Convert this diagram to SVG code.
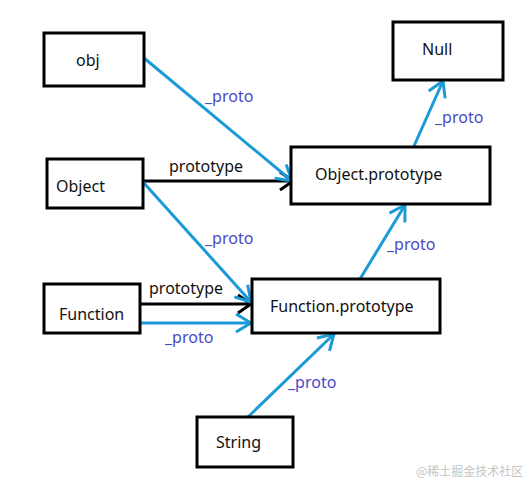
<svg xmlns="http://www.w3.org/2000/svg" width="531" height="493" viewBox="0 0 531 493">
<style>
.box{fill:#fff;stroke:#000;stroke-width:3}
.t{font-family:"Noto Sans","Liberation Sans",sans-serif;font-size:16px;fill:#111}
.lb{font-family:"Noto Sans","Liberation Sans",sans-serif;font-size:16px;fill:#4a4ac4}
.lk{font-family:"Noto Sans","Liberation Sans",sans-serif;font-size:16px;fill:#111}
.blue{stroke:#1a9ad6;stroke-width:3;fill:none;marker-end:url(#ab)}
.black{stroke:#000;stroke-width:3;fill:none;marker-end:url(#ak)}
</style>
<defs>
<marker id="ab" markerUnits="userSpaceOnUse" viewBox="-20 -12 24 24" markerWidth="24" markerHeight="24" refX="0" refY="0" orient="auto">
<path d="M-15,-9 L0,0 L-15,9" fill="none" stroke="#1a9ad6" stroke-width="3"/>
</marker>
<marker id="ak" markerUnits="userSpaceOnUse" viewBox="-20 -12 24 24" markerWidth="24" markerHeight="24" refX="0" refY="0" orient="auto">
<path d="M-13,-9 L0,0 L-13,9" fill="none" stroke="#000" stroke-width="3"/>
</marker>
</defs>
<g id="connectors">
<line class="black" x1="143" y1="181" x2="293" y2="181"/>
<line class="blue" x1="144" y1="58" x2="292" y2="181"/>
<line class="black" x1="140" y1="304" x2="251" y2="304"/>
<line class="blue" x1="143" y1="182" x2="251" y2="302"/>
<line class="blue" x1="140" y1="323" x2="251" y2="323"/>
<line class="blue" x1="248" y1="417" x2="334" y2="334"/>
<line class="blue" x1="360" y1="279" x2="405" y2="205"/>
<line class="blue" x1="414" y1="146" x2="443" y2="81"/>
<text class="lb" x="205" y="102">_proto</text>
<text class="lk" x="169" y="172">prototype</text>
<text class="lb" x="205" y="244">_proto</text>
<text class="lk" x="149" y="294">prototype</text>
<text class="lb" x="165" y="343">_proto</text>
<text class="lb" x="288" y="388">_proto</text>
<text class="lb" x="387" y="250">_proto</text>
<text class="lb" x="435" y="123">_proto</text>
</g>
<g id="obj"><rect class="box" x="44" y="33" width="100" height="53"/><text class="t" x="76" y="66">obj</text></g>
<g id="Object"><rect class="box" x="47" y="159" width="96" height="49"/><text class="t" x="56" y="192">Object</text></g>
<g id="Function"><rect class="box" x="44" y="284" width="96" height="49"/><text class="t" x="59" y="320">Function</text></g>
<g id="Null"><rect class="box" x="393" y="22" width="110" height="58"/><text class="t" x="422" y="55">Null</text></g>
<g id="ObjectPrototype"><rect class="box" x="291" y="147" width="199" height="57"/><text class="t" x="315" y="180">Object.prototype</text></g>
<g id="FunctionPrototype"><rect class="box" x="252" y="279" width="188" height="54"/><text class="t" x="270" y="312">Function.prototype</text></g>
<g id="String"><rect class="box" x="197" y="417" width="96" height="50"/><text class="t" x="216" y="448">String</text></g>
<text x="416" y="476" style="font-family:'Noto Sans CJK SC',sans-serif;font-size:12px;fill:#c4c4c4">@稀土掘金技术社区</text>
</svg>
